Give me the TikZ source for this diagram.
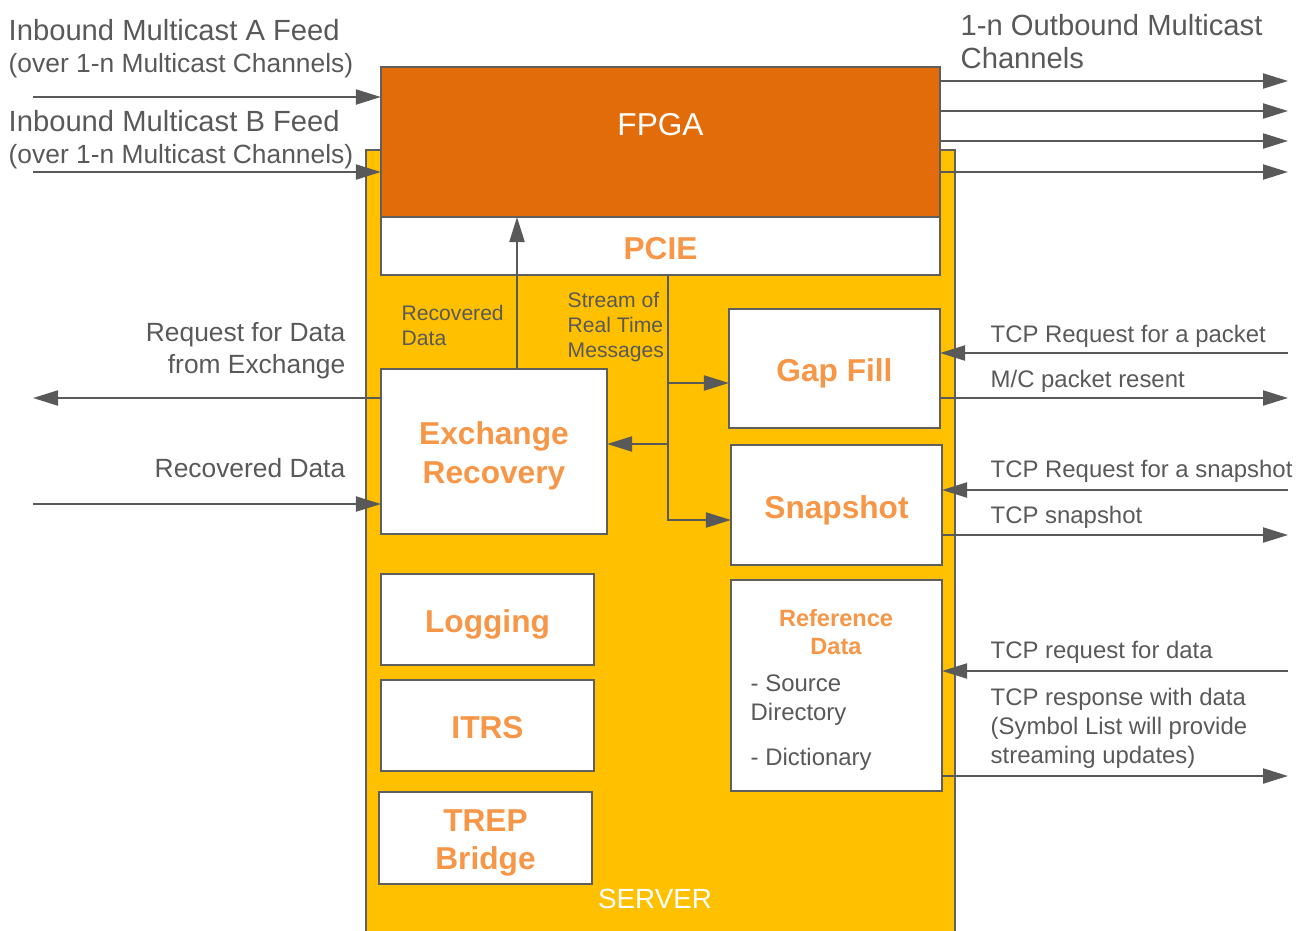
\documentclass[tikz,border=0pt]{standalone}
\usepackage{fontspec}
\setmainfont{Liberation Sans}
\usetikzlibrary{arrows.meta}

\definecolor{fpgaorange}{HTML}{E36C0A}
\definecolor{serveryellow}{HTML}{FFC000}
\definecolor{labelorange}{HTML}{F79646}
\definecolor{textgray}{HTML}{595959}
\definecolor{boxgray}{HTML}{5F5F5F}

\tikzset{
  unitbox/.style={draw=boxgray, line width=0.45pt, fill=white, inner sep=0pt, outer sep=0pt,
    text=labelorange, align=center, font=\bfseries\fontsize{9}{10.9}\selectfont,
    text height=0.26cm, text depth=0pt},
  twoline/.style={text height=0.635cm},
  flow/.style={draw=textgray, line width=0.6pt, -{Triangle[length=0.25cm,width=0.15cm]}},
  sidetext/.style={text=textgray, inner sep=0pt, font=\fontsize{6.8}{8.25}\selectfont},
  feedtext/.style={text=textgray, inner sep=0pt, align=left, font=\fontsize{7.5}{9.1}\selectfont},
  innertext/.style={text=textgray, inner sep=0pt, align=left, font=\fontsize{6}{7.1}\selectfont}
}

\begin{document}
\begin{tikzpicture}[x=0.01cm,y=-0.01cm]
  \useasboundingbox (0,0) rectangle (1297,930);

  \node[draw=boxgray, line width=0.45pt, fill=serveryellow, minimum width=5.89cm, minimum height=7.9cm,
    inner sep=0pt] (server) at (660.5,545) {};
  \node[text=white, font=\fontsize{7.9}{9}\selectfont] (servername) at (655,899) {SERVER};

  \node[draw=boxgray, line width=0.45pt, fill=fpgaorange, minimum width=5.59cm, minimum height=1.5cm,
    inner sep=0pt, outer sep=0pt,
    label={[text=white, yshift=0.17cm, font=\fontsize{9}{10}\selectfont]center:FPGA}] (fpga) at (660.5,142) {};
  \node[unitbox, minimum width=5.59cm, minimum height=0.58cm] (pcie) at (660.5,246) {PCIE};

  \node[unitbox, twoline, minimum width=2.26cm, minimum height=1.65cm] (exrec) at (494,451.5) {Exchange\\Recovery};
  \node[unitbox, minimum width=2.11cm, minimum height=1.19cm] (gap) at (834.5,368.5) {Gap Fill};
  \node[unitbox, minimum width=2.11cm, minimum height=1.2cm] (snap) at (836.5,505) {Snapshot};
  \node[unitbox, minimum width=2.11cm, minimum height=2.11cm] (ref) at (836.5,685.5) {};
  \node[unitbox, minimum width=2.13cm, minimum height=0.91cm] (logging) at (487.5,619.5) {Logging};
  \node[unitbox, minimum width=2.13cm, minimum height=0.91cm] (itrs) at (487.5,725.5) {ITRS};
  \node[unitbox, twoline, minimum width=2.13cm, minimum height=0.92cm] (trep) at (485.5,838) {TREP\\Bridge};

  \node[text=labelorange, inner sep=0pt, align=center, font=\bfseries\fontsize{6.7}{8}\selectfont]
    (reftitle) at (836,632) {Reference\\Data};
  \node[sidetext, anchor=north west, align=left] (reflist) at (750,674.5)
    {- Source\\Directory\\[4.5pt]- Dictionary};

  \node[feedtext, anchor=north west] (feedA) at (8,18.5)
    {{\fontsize{8.3}{9.1}\selectfont Inbound Multicast A Feed}\\(over 1-n Multicast Channels)};
  \node[feedtext, anchor=north west] (feedB) at (8,109.5)
    {{\fontsize{8.3}{9.1}\selectfont Inbound Multicast B Feed}\\(over 1-n Multicast Channels)};
  \node[feedtext, anchor=north west, font=\fontsize{8.3}{9.4}\selectfont] (outtext) at (960,14)
    {1-n Outbound Multicast\\Channels};
  \node[feedtext, anchor=north east, align=right] (reqtext) at (346,321.5)
    {Request for Data\\from Exchange};
  \node[feedtext, anchor=base east] (rectext) at (346,477.5) {Recovered Data};
  \node[innertext, anchor=north west] (recup) at (401,304.5) {Recovered\\Data};
  \node[innertext, anchor=north west] (streamtext) at (567,291.5) {Stream of\\Real Time\\Messages};

  \node[sidetext, anchor=base west] (tcppkt) at (990,342) {TCP Request for a packet};
  \node[sidetext, anchor=base west] (mcres) at (990,387) {M/C packet resent};
  \node[sidetext, anchor=base west] (tcpsnapreq) at (990,477) {TCP Request for a snapshot};
  \node[sidetext, anchor=base west] (tcpsnap) at (990,523) {TCP snapshot};
  \node[sidetext, anchor=base west] (tcpdatareq) at (990,658) {TCP request for data};
  \node[sidetext, anchor=north west, align=left] (tcpdata) at (990,687)
    {TCP response with data\\(Symbol List will provide\\streaming updates)};

  \coordinate (inA) at (33,97);
  \coordinate (inB) at (33,172);
  \coordinate (out1) at (1288,81);
  \coordinate (out2) at (1288,111);
  \coordinate (out3) at (1288,141);
  \coordinate (out4) at (1288,172);
  \coordinate (recx) at (517,0);
  \coordinate (streamx) at (668,0);
  \coordinate (gapy) at (0,383);
  \coordinate (exy) at (0,444);
  \coordinate (snapy) at (0,520);
  \coordinate (reqout) at (33,398);
  \coordinate (recin) at (33,504);
  \coordinate (pktin) at (1288,353);
  \coordinate (pktout) at (1288,398);
  \coordinate (snapin) at (1288,490);
  \coordinate (snapout) at (1288,535);
  \coordinate (datain) at (1288,671);
  \coordinate (dataout) at (1288,776);

  \draw[flow] (inA) -- (inA -| fpga.west);
  \draw[flow] (inB) -- (inB -| fpga.west);
  \draw[flow] (out1 -| fpga.east) -- (out1);
  \draw[flow] (out2 -| fpga.east) -- (out2);
  \draw[flow] (out3 -| fpga.east) -- (out3);
  \draw[flow] (out4 -| fpga.east) -- (out4);
  \draw[flow] (exrec.north -| recx) -- (fpga.south -| recx);
  \draw[flow] (pcie.south -| streamx) |- (snap.west |- snapy);
  \draw[flow] (streamx |- gapy) -- (gap.west |- gapy);
  \draw[flow] (streamx |- exy) -- (exrec.east |- exy);
  \draw[flow] (exrec.west |- reqout) -- (reqout);
  \draw[flow] (recin) -- (recin -| exrec.west);
  \draw[flow] (pktin) -- (pktin -| gap.east);
  \draw[flow] (pktout -| gap.east) -- (pktout);
  \draw[flow] (snapin) -- (snapin -| snap.east);
  \draw[flow] (snapout -| snap.east) -- (snapout);
  \draw[flow] (datain) -- (datain -| ref.east);
  \draw[flow] (dataout -| ref.east) -- (dataout);
\end{tikzpicture}
\end{document}
